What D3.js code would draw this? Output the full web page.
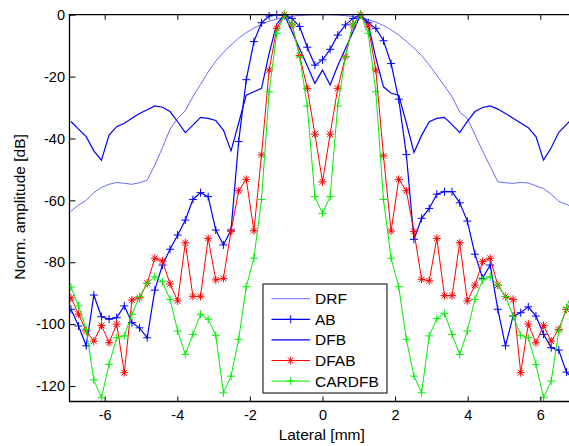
<!DOCTYPE html>
<html>
<head>
<meta charset="utf-8">
<script src="https://cdn.jsdelivr.net/npm/d3@7"></script>
<style>
  body { margin: 0; background: #fff; }
  svg { display: block; font-family: "Liberation Sans", Arial, sans-serif; }
</style>
</head>
<body>
<div id="chart"></div>
<script>
// Lateral sample positions [mm]
const lateral = [-6.93, -6.72, -6.51, -6.30, -6.09, -5.88, -5.67, -5.46, -5.25, -5.04, -4.83,
  -4.62, -4.41, -4.20, -3.99, -3.78, -3.57, -3.36, -3.15, -2.94, -2.73, -2.52, -2.31, -2.10,
  -1.89, -1.68, -1.47, -1.26, -1.05, -0.84, -0.63, -0.42, -0.21, 0, 0.21, 0.42, 0.63, 0.84,
  1.05, 1.26, 1.47, 1.68, 1.89, 2.10, 2.31, 2.52, 2.73, 2.94, 3.15, 3.36, 3.57, 3.78, 3.99,
  4.20, 4.41, 4.62, 4.83, 5.04, 5.25, 5.46, 5.67, 5.88, 6.09, 6.30, 6.51, 6.72, 6.93];

// Normalised amplitude [dB]
const drf = [-63.5, -61.5, -60, -57.5, -55.8, -54.8, -54.2, -54.5, -54.8, -54.3, -53.5,
  -48.6, -43, -37, -33.5, -31, -26.5, -22.5, -18.5, -15, -12.2, -9.8, -7.6, -5.8, -4.3,
  -3.1, -2.1, -1.4, -0.9, -0.5, -0.25, -0.1, 0, 0, 0, -0.1, -0.3, -0.6, -1, -1.6, -2.4,
  -3.5, -4.9, -6.6, -8.6, -10.8, -13.2, -16.2, -19.6, -23, -26.5, -31.5, -33.5, -38.8,
  -44, -49, -54, -54.3, -54.5, -54.2, -54.4, -55.3, -56.2, -58, -60.3, -61.3, -62.5];

const ab = [-95.2, -100.6, -107, -90.6, -97.6, -98.4, -97.9, -94.1, -99.5, -101.2, -104.4,
  -89, -80.9, -75.8, -71.2, -66.4, -59.7, -57.5, -58.8, -69.6, -74.4, -69.6, -41, -21,
  -8.7, -2.6, -0.4, 0, -0.3, -1.2, -3.8, -10.5, -16.3, -14.6, -11.2, -6.6, -3.3, -1.2, 0,
  -2.6, -4.4, -8.4, -15.8, -27.3, -45.2, -72.6, -65.8, -62.6, -58, -57.2, -57.2, -60.8,
  -66.7, -77.4, -85.2, -80.9, -95.2, -107, -97.4, -96.3, -94.4, -97.4, -103.3, -107.6,
  -108.4, -115.5, -118];

const dfb = [-34.5, -37, -39.4, -44, -47, -38.9, -36.2, -35.1, -33.5, -31.9, -30.7, -29.5,
  -29.9, -31.3, -34.6, -38.1, -35.7, -33.2, -33.5, -34.2, -37.3, -44, -35, -26, -24.9,
  -23.8, -12.5, -3, 0, -5.5, -11, -16.5, -22.2, -17.9, -22.7, -16.5, -11, -5.5, 0, -3,
  -14, -23.3, -25.4, -26, -35, -44.5, -39, -34.6, -33.5, -33.2, -35.5, -38.1, -34.5,
  -31.3, -30, -29.5, -30.5, -31.9, -33.5, -35, -36.5, -39.4, -47, -43, -38, -35.5, -33];

const dfab = [-91.5, -96.8, -102.2, -105.5, -100.4, -106, -100, -115.7, -92.2, -91.5, -86.8,
  -78.7, -79.6, -87, -92.5, -73.7, -91, -91, -72.3, -85.7, -85.2, -70, -56.9, -53.2,
  -69.8, -45.3, -17.9, -4.4, 0, -3.3, -13.2, -23.8, -38.6, -54, -38.6, -23.8, -13.6,
  -3.3, 0, -3.9, -17.9, -45.6, -69.9, -53.2, -56.9, -70.1, -85.5, -86, -72.3, -90.8,
  -90.8, -73.7, -92.5, -87.4, -79.8, -78.7, -87.4, -91.1, -92, -115.7, -100, -106,
  -100.4, -105.5, -101.7, -95.2, -91.5];

const cardfb = [-88, -94.1, -101.7, -118, -123.8, -113, -104.4, -103.8, -96.8, -91.1, -86.8,
  -84.7, -86.3, -92, -102.2, -109.8, -103.3, -96.8, -98.4, -103.6, -122.2, -116.8, -104.9,
  -87.9, -78.7, -59.7, -24.9, -6, 0, -3, -13.6, -29.5, -58.8, -64.2, -58.8, -29.5, -13.6,
  -3, 0, -6, -24.9, -59.7, -78.7, -87.9, -104.9, -116.8, -122.2, -103.8, -98.2, -96.5,
  -103.3, -109.8, -102.2, -92, -85.7, -84.7, -87.4, -91.1, -97.4, -103.6, -104.4, -113,
  -123.8, -118.4, -102.2, -94.7, -88];

const seriesNames = ['DRF', 'AB', 'DFB', 'DFAB', 'CARDFB'];
const xTicks = [-6, -4, -2, 0, 2, 4, 6];
const yTicks = [0, -20, -40, -60, -80, -100, -120];

const W = 569, H = 446;
const plot = { left: 69.5, top: 14.7, right: 575.5, bottom: 401.5 };

const svg = d3.select('#chart').append('svg')
  .attr('width', W)
  .attr('height', H);

const x = d3.scaleLinear().domain([-6.97, 6.97]).range([plot.left, plot.right]);
const y = d3.scaleLinear().domain([-125, 0]).range([plot.bottom, plot.top]);

// Series styles
const styles = {
  DRF:    { values: drf,    color: '#6a6aff', width: 1,   marker: null },
  AB:     { values: ab,     color: '#0000ff', width: 1.2, marker: 'plus' },
  DFB:    { values: dfb,    color: '#0000ff', width: 1.2, marker: null },
  DFAB:   { values: dfab,   color: '#ff0000', width: 1,   marker: 'star' },
  CARDFB: { values: cardfb, color: '#00ee00', width: 1,   marker: 'plus' }
};

const markerPath = {
  plus: 'M-4,0H4M0,-4V4',
  star: 'M-4,0H4M0,-4V4M-2.9,-2.9L2.9,2.9M-2.9,2.9L2.9,-2.9'
};

svg.append('clipPath').attr('id', 'clip')
  .append('rect')
  .attr('x', plot.left).attr('y', plot.top - 5)
  .attr('width', plot.right - plot.left).attr('height', plot.bottom - plot.top + 10);

const g = svg.append('g').attr('clip-path', 'url(#clip)');

const line = d3.line()
  .x(d => x(d[0]))
  .y(d => y(d[1]));

seriesNames.forEach(name => {
  const s = styles[name];
  const pts = d3.zip(lateral, s.values);
  g.append('path')
    .datum(pts)
    .attr('fill', 'none')
    .attr('stroke', s.color)
    .attr('stroke-width', s.width)
    .attr('d', line);
  if (s.marker) {
    g.selectAll(null)
      .data(pts)
      .enter()
      .append('path')
      .attr('transform', d => `translate(${x(d[0])},${y(d[1])})`)
      .attr('d', markerPath[s.marker])
      .attr('fill', 'none')
      .attr('stroke', s.color)
      .attr('stroke-width', 1);
  }
});

// Axes (ticks pointing inward, MATLAB style)
const xAxis = svg.append('g')
  .attr('transform', `translate(0,${plot.bottom})`)
  .call(d3.axisBottom(x).tickValues(xTicks).tickSizeInner(-5).tickSizeOuter(0)
    .tickPadding(8).tickFormat(d => String(d)));

const xAxisTop = svg.append('g')
  .attr('transform', `translate(0,${plot.top})`)
  .call(d3.axisTop(x).tickValues(xTicks).tickSizeInner(-5).tickSizeOuter(0)
    .tickFormat(''));

const yAxis = svg.append('g')
  .attr('transform', `translate(${plot.left},0)`)
  .call(d3.axisLeft(y).tickValues(yTicks).tickSizeInner(-6).tickSizeOuter(0)
    .tickPadding(4.5).tickFormat(d => String(d)));

[xAxis, xAxisTop, yAxis].forEach(a => {
  a.select('.domain').remove();
  a.selectAll('.tick line').attr('stroke', '#000').attr('stroke-width', 1);
  a.selectAll('.tick text')
    .attr('fill', '#000')
    .style('font-size', '14.5px')
    .style('font-family', '"Liberation Sans", Arial, sans-serif');
});

// Axes box (right edge falls outside the window)
svg.append('path')
  .attr('d', `M${plot.right},${plot.top}H${plot.left}V${plot.bottom}H${plot.right}`)
  .attr('fill', 'none')
  .attr('stroke', '#000')
  .attr('stroke-width', 1.3);

// Axis labels
svg.append('text')
  .attr('x', 321.7)
  .attr('y', 439.5)
  .attr('text-anchor', 'middle')
  .style('font-size', '15.5px')
  .text('Lateral [mm]');

svg.append('text')
  .attr('transform', 'rotate(-90)')
  .attr('x', -207)
  .attr('y', 25)
  .attr('text-anchor', 'middle')
  .style('font-size', '15.5px')
  .text('Norm. amplitude [dB]');

// Legend
const legend = svg.append('g');
legend.append('rect')
  .attr('x', 263).attr('y', 284)
  .attr('width', 124).attr('height', 109)
  .attr('fill', '#fff')
  .attr('stroke', '#000')
  .attr('stroke-width', 1);

seriesNames.forEach((name, i) => {
  const s = styles[name];
  const cy = 298.7 + i * 20.6;
  legend.append('line')
    .attr('x1', 271.5).attr('x2', 310)
    .attr('y1', cy).attr('y2', cy)
    .attr('stroke', s.color)
    .attr('stroke-width', s.width);
  if (s.marker) {
    legend.append('path')
      .attr('transform', `translate(290.7,${cy})`)
      .attr('d', markerPath[s.marker])
      .attr('fill', 'none')
      .attr('stroke', s.color)
      .attr('stroke-width', 1);
  }
  legend.append('text')
    .attr('x', 315)
    .attr('y', cy)
    .attr('dy', '0.36em')
    .style('font-size', '15.5px')
    .text(name);
});
</script>
</body>
</html>
